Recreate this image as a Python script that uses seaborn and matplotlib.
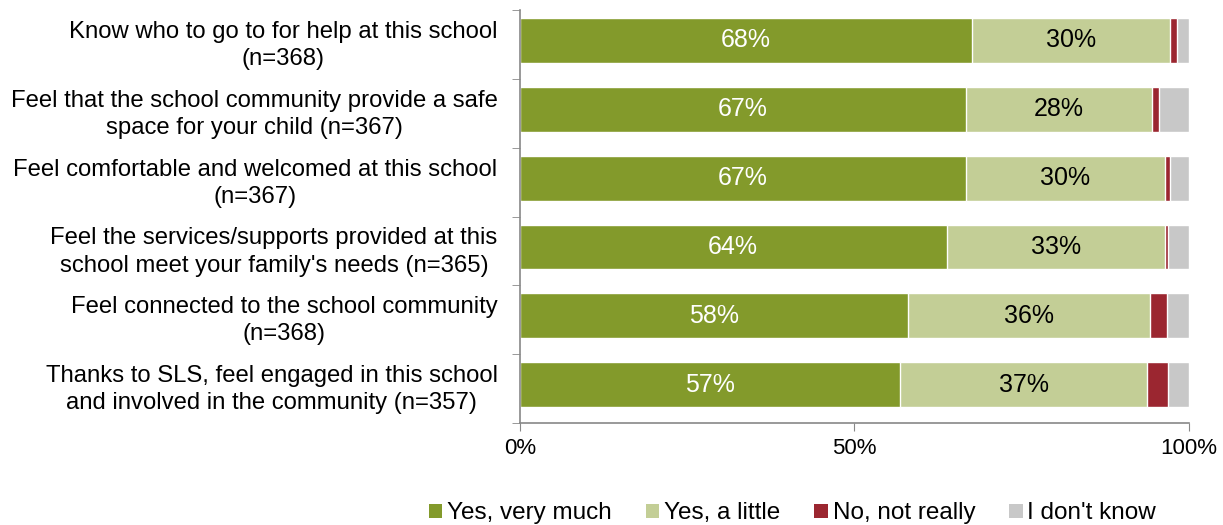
import matplotlib
matplotlib.use("Agg")
import matplotlib.pyplot as plt
import seaborn as sns
import pandas as pd
import numpy as np
from matplotlib.patches import Patch

categories = [
    "Know who to go to for help at this school\n(n=368)",
    "Feel that the school community provide a safe\nspace for your child (n=367)",
    "Feel comfortable and welcomed at this school\n(n=367)",
    "Feel the services/supports provided at this\nschool meet your family's needs (n=365)",
    "Feel connected to the school community\n(n=368)",
    "Thanks to SLS, feel engaged in this school\nand involved in the community (n=357)",
]
series_names = ["Yes, very much", "Yes, a little", "No, not really", "I don't know"]
yes_very_much = [67.6, 66.7, 66.7, 63.8, 58.0, 56.8]
yes_a_little = [29.6, 27.8, 29.7, 32.6, 36.2, 37.0]
no_not_really = [1.1, 1.1, 0.8, 0.5, 2.5, 3.1]
dont_know = [1.7, 4.4, 2.8, 3.1, 3.3, 3.1]
label_very_much = ["68%", "67%", "67%", "64%", "58%", "57%"]
label_a_little = ["30%", "28%", "30%", "33%", "36%", "37%"]
colors = ["#839A2B", "#C3CE96", "#9B2630", "#C8C8C8"]

sns.set_style("white")
plt.rcParams["font.family"] = ["Liberation Sans", "DejaVu Sans"]
plt.rcParams["text.color"] = "black"
plt.rcParams["xtick.labelcolor"] = "black"
plt.rcParams["ytick.labelcolor"] = "black"

values = np.array([yes_very_much, yes_a_little, no_not_really, dont_know])
cum = np.cumsum(values, axis=0)

fig = plt.figure(figsize=(12.23, 5.25), dpi=100)
ax = fig.add_axes([0.425, 0.194, 0.972 - 0.425, 0.981 - 0.194])

for i in range(3, -1, -1):
    df = pd.DataFrame({"cat": categories, "val": cum[i]})
    sns.barplot(data=df, x="val", y="cat", orient="h", color=colors[i],
                width=0.65, saturation=1, ax=ax, order=categories)

for j in range(len(categories)):
    ax.text(values[0][j] / 2, j, label_very_much[j], ha="center", va="center",
            color="white", fontsize=18)
    ax.text(cum[0][j] + values[1][j] / 2, j, label_a_little[j], ha="center",
            va="center", color="black", fontsize=18)

shift = 0.058
ax.set_xlim(0, 100)
ax.set_ylim(5.5 + shift, -0.5 + shift)
ax.set_xticks([0, 50, 100])
ax.set_xticklabels(["0%", "50%", "100%"], fontsize=16, color="black")
ax.set_xlabel("")
ax.set_ylabel("")

ax.set_yticks(range(len(categories)))
ax.set_yticklabels(categories, fontsize=17.2, multialignment="center",
                   linespacing=1.3, color="black")
ax.tick_params(axis="y", length=0, pad=16)
ax.tick_params(axis="x", length=6, color="#888888", direction="out", pad=5, bottom=True)
ax.set_yticks(np.arange(-0.5, 6.0, 1.0) + shift, minor=True)
ax.tick_params(axis="y", which="minor", length=6, color="#888888", left=True, direction="out")

for s in ["top", "right"]:
    ax.spines[s].set_visible(False)
for s in ["left", "bottom"]:
    ax.spines[s].set_color("#888888")
    ax.spines[s].set_linewidth(1.2)

handles = [Patch(facecolor=c, edgecolor="none") for c in colors]
leg = fig.legend(handles, series_names, loc="center", bbox_to_anchor=(0.648, 0.022),
                 ncol=4, frameon=False, fontsize=17.5, handlelength=0.55, handleheight=0.55,
                 handletextpad=0.2, columnspacing=1.4)
for t in leg.get_texts():
    t.set_color("black")

fig.savefig("out.png", dpi=100)
